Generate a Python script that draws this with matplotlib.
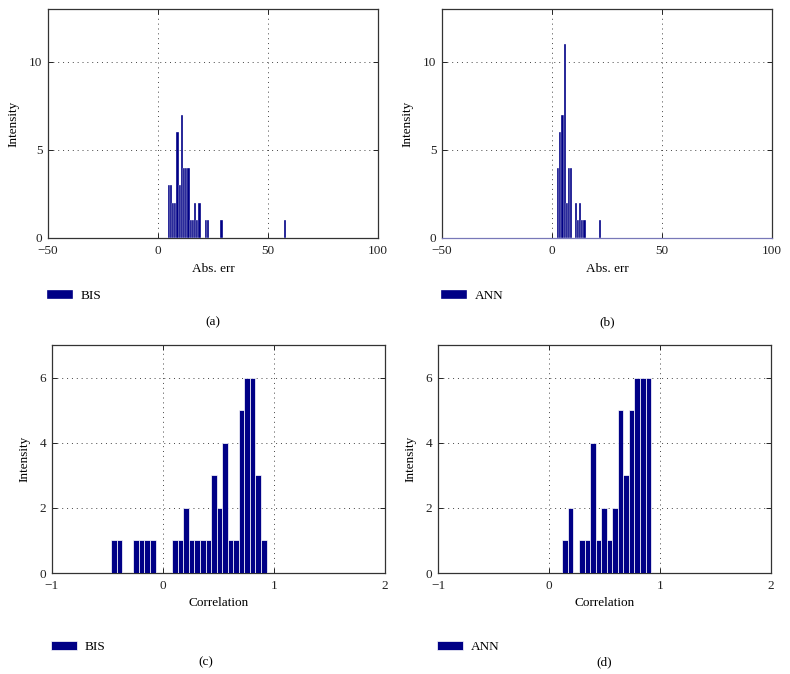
import matplotlib
matplotlib.use("Agg")
import matplotlib.pyplot as plt

# (a) BIS absolute error histogram: bin left edge -> count (bin width 1)
bis_err_left = [4.4, 5.4, 6.4, 7.4, 8.4, 9.4, 10.4, 11.4, 12.4, 13.4, 14.4, 15.4,
                16.4, 17.4, 18.4, 21.4, 22.4, 28.4, 57.4]
bis_err_count = [3, 3, 2, 2, 6, 3, 7, 4, 4, 4, 1, 1, 2, 1, 2, 1, 1, 1, 1]

# (b) ANN absolute error histogram (bin width 1)
ann_err_left = [2.3, 3.3, 4.3, 5.3, 6.3, 7.3, 8.3, 10.3, 11.3, 12.3, 13.3, 14.3, 21.3]
ann_err_count = [4, 6, 7, 11, 2, 4, 4, 2, 1, 2, 1, 1, 1]
err_bin_width = 1.0

# (c) BIS correlation histogram (bin width 0.05)
bis_corr_left = [-0.467, -0.417, -0.267, -0.217, -0.167, -0.117, 0.083, 0.133, 0.183,
                 0.233, 0.283, 0.333, 0.383, 0.433, 0.483, 0.533, 0.583, 0.633, 0.683,
                 0.733, 0.783, 0.833, 0.883]
bis_corr_count = [1, 1, 1, 1, 1, 1, 1, 1, 2, 1, 1, 1, 1, 3, 2, 4, 1, 1, 5, 6, 6, 3, 1]

# (d) ANN correlation histogram (bin width 0.05)
ann_corr_left = [0.12, 0.17, 0.27, 0.32, 0.37, 0.42, 0.47, 0.52, 0.57, 0.62, 0.67,
                 0.72, 0.77, 0.82, 0.87]
ann_corr_count = [1, 2, 1, 1, 4, 1, 2, 1, 2, 5, 3, 5, 6, 6, 6]
corr_bin_width = 0.05

err_xticks = [-50, 0, 50, 100]
err_yticks = [0, 5, 10]
corr_xticks = [-1, 0, 1, 2]
corr_yticks = [0, 2, 4, 6]

BAR_COLOR = "#000086"
FS = 9.5
W, H = 790, 674

plt.rcParams["font.family"] = ["Liberation Serif", "DejaVu Serif"]
plt.rcParams["font.size"] = FS
plt.rcParams["axes.unicode_minus"] = True

fig = plt.figure(figsize=(W / 100, H / 100), dpi=100)


def px_axes(left, top, right, bottom):
    return fig.add_axes([left / W, 1 - bottom / H, (right - left) / W, (bottom - top) / H])


def draw_hist(ax, left, counts, width, edge_lw, xlim, ylim, xticks, yticks, xlabel,
              name, caption, cap_x, cap_y, leg_drop):
    ax.bar(left, counts, width=width, align="edge", color=BAR_COLOR,
           edgecolor="white", linewidth=edge_lw, label=name, zorder=3)
    ax.set_xlim(*xlim)
    ax.set_ylim(*ylim)
    ax.set_xticks(xticks)
    ax.set_yticks(yticks)
    ax.grid(True, color="#444444", linestyle=(0, (1, 4)), linewidth=0.7, zorder=0)
    ax.tick_params(direction="in", top=True, right=True, length=3.5, width=0.7,
                   colors="#222222", labelsize=FS)
    ax.tick_params(axis="x", pad=5)
    ax.tick_params(axis="y", pad=4)
    for sp in ax.spines.values():
        sp.set_color("#333333")
        sp.set_linewidth(0.9)
    ax.set_xlabel(xlabel, fontsize=FS, labelpad=4)
    ax.set_ylabel("Intensity", fontsize=FS, labelpad=7)
    h_px = ax.get_position().height * H
    ax.legend(loc="upper left", bbox_to_anchor=(-0.02, -leg_drop / h_px), frameon=False,
              handlelength=2.0, handleheight=0.6, handletextpad=0.6, fontsize=FS,
              borderaxespad=0)
    fig.text(cap_x / W, 1 - cap_y / H, caption, ha="center", va="center", fontsize=FS)


ax_a = px_axes(48, 9, 378, 238)
draw_hist(ax_a, bis_err_left, bis_err_count, err_bin_width, 0.25, (-50, 100), (0, 13),
          err_xticks, err_yticks, "Abs. err", "BIS", "(a)", 213, 322, 47)

ax_b = px_axes(442, 9, 772, 238)
draw_hist(ax_b, ann_err_left, ann_err_count, err_bin_width, 0.25, (-50, 100), (0, 13),
          err_xticks, err_yticks, "Abs. err", "ANN", "(b)", 607, 322, 47)
ax_b.spines["bottom"].set_color("#7878b8")

ax_c = px_axes(52, 345, 385, 573)
draw_hist(ax_c, bis_corr_left, bis_corr_count, corr_bin_width, 0.5, (-1, 2), (0, 7),
          corr_xticks, corr_yticks, "Correlation", "BIS", "(c)", 206, 662, 63)

ax_d = px_axes(438, 345, 771, 573)
draw_hist(ax_d, ann_corr_left, ann_corr_count, corr_bin_width, 0.5, (-1, 2), (0, 7),
          corr_xticks, corr_yticks, "Correlation", "ANN", "(d)", 604, 662, 63)

fig.savefig("out.png", dpi=100)
